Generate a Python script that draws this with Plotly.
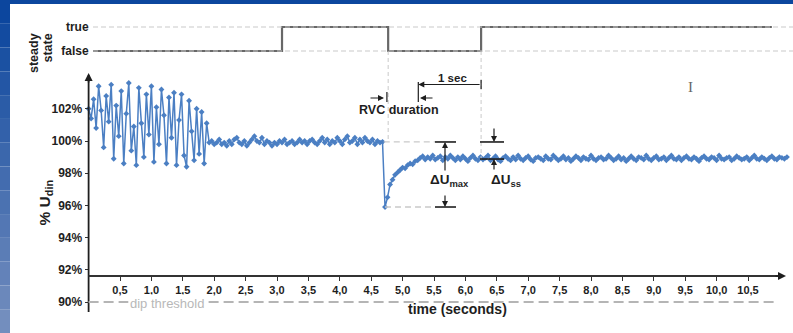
import numpy as np
import plotly.graph_objects as go

# ---------------- data ----------------
DT = 0.04  # sampling interval (s)

noisy_phase = [102.0, 101.4, 102.6, 100.8, 103.4, 101.9, 99.6, 102.8, 101.2, 103.5,
               98.9, 102.2, 100.3, 103.1, 98.6, 101.7, 103.6, 99.4, 100.9, 98.5,
               103.3, 101.1, 99.0, 102.9, 100.4, 103.4, 98.7, 102.1, 99.8, 103.2,
               101.6, 98.6, 102.7, 100.2, 103.0, 98.5, 101.3, 102.9, 99.1, 98.4,
               102.5, 100.6, 98.8, 102.0, 99.2, 101.8, 98.6, 101.1]

stable_phase = [99.9, 100.0, 99.8, 99.9, 100.1, 99.8, 99.9, 99.7, 100.0, 99.8,
                100.1, 100.2, 99.9, 99.8, 100.0, 99.7, 99.9, 100.1, 100.3, 100.0,
                99.9, 100.2, 99.8, 100.0, 99.9, 99.7, 99.9, 99.8, 100.0, 99.9,
                100.1, 99.8, 99.9, 100.0, 99.8, 99.9, 100.1, 99.9, 100.0, 99.8,
                100.0, 100.1, 99.9, 99.8, 100.0, 100.2, 99.9, 100.1, 99.8, 100.0,
                99.9, 100.2, 100.0, 99.8, 100.1, 100.3, 99.9, 100.0, 100.2, 99.8,
                100.1, 99.9, 100.2, 100.0, 99.9, 100.1, 99.8, 100.0, 99.9, 99.95]

recovery_phase = [95.9, 96.5, 97.3, 97.6, 97.9, 98.05, 98.2, 98.35, 98.3, 98.5,
                  98.6, 98.55, 98.75]

steady_phase = [98.8, 98.95, 99.05, 98.85, 99.0, 98.9, 99.1, 98.85, 98.95, 99.05,
                98.8, 99.0, 98.9, 99.1, 98.95, 98.8, 99.0, 98.85, 99.05, 98.9,
                98.75, 98.95, 99.1, 98.9, 98.8, 99.0, 98.85, 98.95, 99.1, 98.8,
                98.9, 99.05, 98.85, 98.75, 98.95, 99.05, 98.9, 98.8, 99.0, 98.85,
                99.1, 98.9, 98.8, 98.95, 99.05, 98.85, 98.75, 98.95, 99.0, 98.9,
                98.8, 99.05, 98.9, 98.85, 99.1, 98.95, 98.8, 98.9, 99.05, 98.85,
                98.95, 98.75, 98.9, 99.05, 98.95, 98.8, 99.0, 98.9, 98.85, 99.1,
                98.9, 98.8, 98.95, 99.0, 98.85, 98.9, 99.1, 98.95, 98.8, 98.9,
                99.05, 98.85, 98.95, 98.75, 98.9, 99.05, 98.9, 98.8, 99.0, 98.95,
                98.85, 99.1, 98.9, 98.8, 98.95, 99.05, 98.85, 98.9, 99.0, 98.8,
                98.95, 99.1, 98.9, 98.85, 99.0, 98.8, 98.95, 99.05, 98.9, 98.85,
                99.0, 98.9, 98.75, 98.95, 99.05, 98.9, 98.85, 99.0, 98.95, 98.8,
                99.1, 98.9, 98.85, 98.95, 99.0, 98.8, 98.9, 99.05, 98.95, 98.85,
                98.9, 99.0, 98.8, 98.95, 99.1, 98.9, 98.85, 99.0, 98.9, 98.8,
                98.95, 99.05, 98.9, 98.85, 99.0, 98.95, 98.9, 99.0]

u_din = noisy_phase + stable_phase + recovery_phase + steady_phase
time_s = np.round(np.arange(len(u_din)) * DT, 3)

state_time = [0.07, 3.08, 4.77, 6.25, 10.88]
state_value = [0, 1, 0, 1, 1]
state_labels = ["false", "true"]

y_ticks = [90, 92, 94, 96, 98, 100, 102]
y_ticktext = [f"{v}%" for v in y_ticks]
x_ticks = [0.5 * k for k in range(1, 22)]
x_ticktext = [f"{v:.1f}".replace(".", ",") for v in x_ticks]

u_before = 99.94      # level before the dip
u_min = 95.9          # dip minimum
u_ss = 98.88          # new steady level
dip_threshold = 90
rvc_end = 5.25        # end of RVC duration
t_fall = 4.77         # steady state lost
t_rise = 6.25         # steady state regained

# ---------------- layout geometry ----------------
W, H = 793, 333
X0_PX, PX_PER_S = 88.6, 62.8
Y100_PX, PX_PER_PCT = 141.0, 16.1


def t_of(px):
    return (px - X0_PX) / PX_PER_S


def v_of(py):
    return 100 - (py - Y100_PX) / PX_PER_PCT


FONT = "Liberation Sans, Arial, sans-serif"
BLUE = "#4b7fc3"
DARK = "#1e1e1e"
LGREY = "#c9c9c9"

fig = go.Figure()

fig.add_trace(go.Scatter(
    x=time_s, y=u_din, mode="lines+markers",
    line=dict(color=BLUE, width=1.5),
    marker=dict(symbol="diamond", size=4.5, color=BLUE),
    xaxis="x", yaxis="y", showlegend=False, hoverinfo="skip"))

fig.add_trace(go.Scatter(
    x=state_time, y=state_value, mode="lines", line_shape="hv",
    line=dict(color="#686868", width=2.2),
    xaxis="x", yaxis="y2", showlegend=False, hoverinfo="skip"))

shapes = []
# blue frame
shapes.append(dict(type="rect", xref="paper", yref="paper", x0=0, x1=1,
                   y0=1 - 4 / H, y1=1, fillcolor="#0c479e", line_width=0))
n = 14
for i in range(n):
    f = i / (n - 1)
    r = int(12 + f * (115 - 12))
    g = int(70 + f * (142 - 70))
    b = int(158 + f * (190 - 158))
    shapes.append(dict(type="rect", xref="paper", yref="paper", x0=0, x1=10 / W,
                       y0=1 - (i + 1) / n, y1=1 - i / n,
                       fillcolor=f"rgb({r},{g},{b})", line_width=0))

# steady-state guide lines
for lv in (0, 1):
    shapes.append(dict(type="line", xref="x", yref="y2", x0=0.07, x1=t_of(W),
                       y0=lv, y1=lv, line=dict(color=LGREY, width=1, dash="5px,3px")))

# axes lines
shapes.append(dict(type="line", xref="x", yref="y", x0=0, x1=0,
                   y0=v_of(312), y1=v_of(80), line=dict(color=DARK, width=1.8)))
shapes.append(dict(type="line", xref="x", yref="y", x0=0, x1=t_of(778),
                   y0=v_of(276), y1=v_of(276), line=dict(color="#333", width=2)))

# dip threshold
shapes.append(dict(type="line", xref="x", yref="y", x0=0, x1=t_of(778),
                   y0=dip_threshold, y1=dip_threshold,
                   line=dict(color="#b5b5b5", width=2, dash="10px,5px")))

# vertical dashed guides
shapes.append(dict(type="line", xref="x", yref="y", x0=t_fall, x1=t_fall,
                   y0=v_of(51), y1=v_of(140), line=dict(color=LGREY, width=1, dash="4px,3px")))
shapes.append(dict(type="line", xref="x", yref="y", x0=t_rise, x1=t_rise,
                   y0=v_of(51), y1=v_of(161), line=dict(color=LGREY, width=1, dash="4px,3px")))

# RVC / 1 sec ticks
shapes.append(dict(type="line", xref="x", yref="y", x0=4.75, x1=4.75,
                   y0=v_of(92), y1=v_of(102), line=dict(color=DARK, width=1.2)))
shapes.append(dict(type="line", xref="x", yref="y", x0=rvc_end, x1=rvc_end,
                   y0=v_of(82), y1=v_of(102), line=dict(color=DARK, width=1.2)))
shapes.append(dict(type="line", xref="x", yref="y", x0=t_rise, x1=t_rise,
                   y0=v_of(80), y1=v_of(89), line=dict(color=DARK, width=1.2)))

# delta U guide lines
shapes.append(dict(type="line", xref="x", yref="y", x0=4.70, x1=t_of(435),
                   y0=u_before, y1=u_before, line=dict(color=LGREY, width=1.3, dash="6px,4px")))
shapes.append(dict(type="line", xref="x", yref="y", x0=4.72, x1=t_of(435),
                   y0=u_min, y1=u_min, line=dict(color=LGREY, width=1.3, dash="6px,4px")))
for (x0, x1, yy) in [(t_of(435), t_of(456), u_before), (t_of(435), t_of(456), u_min),
                     (t_of(480), t_of(504), u_before), (t_of(480), t_of(504), u_ss)]:
    shapes.append(dict(type="line", xref="x", yref="y", x0=x0, x1=x1, y0=yy, y1=yy,
                       line=dict(color=DARK, width=1.6)))

annotations = []


def arrow(hx, hy, tx, ty, w=1.2):
    annotations.append(dict(x=hx, y=hy, ax=tx, ay=ty, xref="x", yref="y",
                            axref="x", ayref="y", text="", showarrow=True,
                            arrowhead=2, arrowsize=1, arrowwidth=w,
                            arrowcolor=DARK, standoff=0, startstandoff=0))


def label(x, y, text, size, color=DARK, xref="x", yref="y", angle=0, weight="bold",
          family=FONT, **kw):
    annotations.append(dict(x=x, y=y, xref=xref, yref=yref, text=text, showarrow=False,
                            textangle=angle,
                            font=dict(family=family, size=size, color=color, weight=weight),
                            **kw))


# axis arrows
arrow(0, v_of(73), 0, v_of(84), w=1.6)
arrow(t_of(786), v_of(276), t_of(774), v_of(276), w=1.6)

# 1 sec
arrow(rvc_end, v_of(84.5), t_rise, v_of(84.5))
label((rvc_end + t_rise) / 2 + 0.05, v_of(78), "1 sec", 11.5)
# RVC duration
arrow(t_of(384), v_of(98), t_of(369), v_of(98))
arrow(t_of(420), v_of(98), t_of(434), v_of(98))
label(t_of(399), v_of(110), "RVC duration", 12.5)

# delta U max
arrow(t_of(445), u_before, t_of(445), v_of(172))
arrow(t_of(445), u_min, t_of(445), v_of(194))
label(t_of(449), v_of(180), "ΔU<sub>max</sub>", 13.5)
# delta U ss
arrow(t_of(494), u_before, t_of(494), v_of(127))
arrow(t_of(494), u_ss, t_of(494), v_of(171))
label(t_of(506), v_of(180), "ΔU<sub>ss</sub>", 13.5)

# dip threshold text
label(t_of(167), v_of(303), "dip threshold", 13, color="#b8b8b8", weight="normal",
      bgcolor="white", borderpad=1)

# cursor glyph
label(t_of(690), v_of(87), "I", 15, color="#666", weight="normal",
      family="Liberation Serif, serif")

# axis titles
label(457 / W, 1 - 319 / H, "time (seconds)", 14, xref="paper", yref="paper")
label(33 / W, 1 - 203 / H, "% U<sub>din</sub>", 15.5, xref="paper", yref="paper", angle=-90)
label(25 / W, 1 - 31 / H, "steady", 12.5, xref="paper", yref="paper", angle=-90)
label(38 / W, 1 - 32 / H, "state", 12.5, xref="paper", yref="paper", angle=-90)

fig.update_layout(
    width=W, height=H, margin=dict(l=0, r=0, t=0, b=0),
    paper_bgcolor="white", plot_bgcolor="white", showlegend=False,
    xaxis=dict(domain=[0, 1], range=[t_of(0), t_of(W)], anchor="free",
               position=1 - 276 / H, showline=False, showgrid=False, zeroline=False,
               tickmode="array", tickvals=x_ticks, ticktext=x_ticktext,
               ticks="outside", ticklen=4, tickwidth=1.2, tickcolor="#333",
               tickfont=dict(family=FONT, size=11, color=DARK, weight="bold")),
    yaxis=dict(domain=[0, 1], range=[v_of(H), v_of(0)], anchor="free",
               position=X0_PX / W, showline=False, showgrid=False, zeroline=False,
               tickmode="array", tickvals=y_ticks, ticktext=y_ticktext,
               ticks="outside", ticklen=4, tickwidth=1.2, tickcolor="#333",
               tickfont=dict(family=FONT, size=12, color=DARK, weight="bold")),
    yaxis2=dict(domain=[1 - 60 / H, 1 - 18 / H], range=[-0.375, 1.375], anchor="free",
                position=X0_PX / W, showline=False, showgrid=False, zeroline=False,
                tickmode="array", tickvals=[0, 1], ticktext=state_labels, ticks="",
                tickfont=dict(family=FONT, size=12, color=DARK, weight="bold")),
    shapes=shapes, annotations=annotations,
)

fig.write_html(
    "out.html",
    config={"displayModeBar": False},
    post_script="document.body.style.margin='0';document.body.style.padding='0';"
                "document.body.style.overflow='hidden';",
)
